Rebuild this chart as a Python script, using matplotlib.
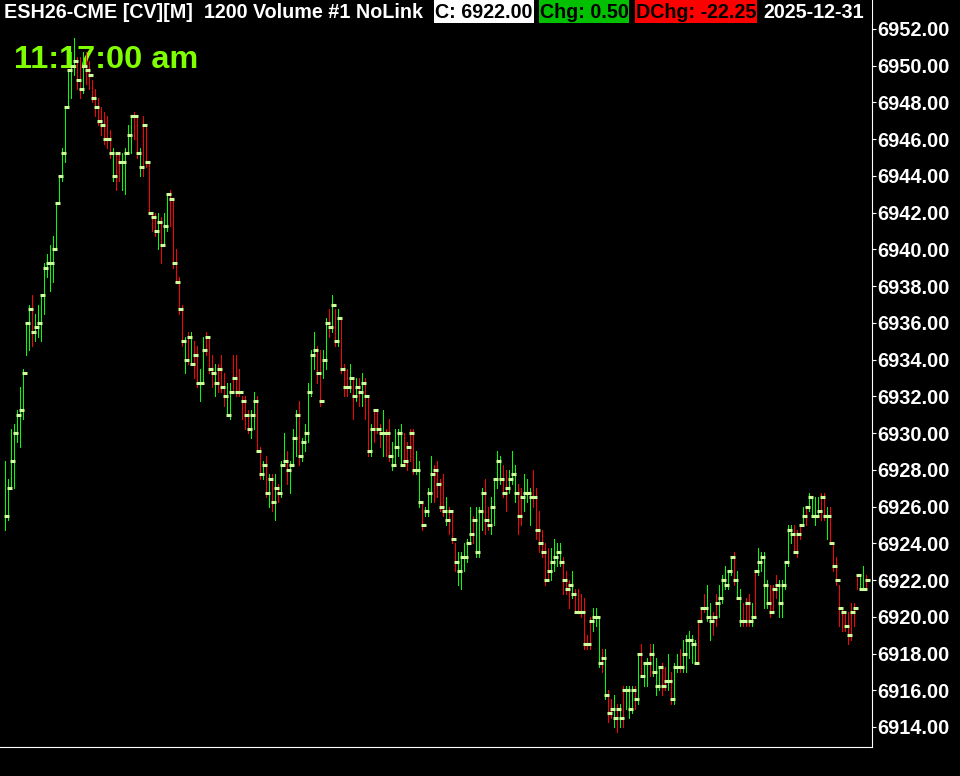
import matplotlib
matplotlib.use("Agg")
import matplotlib.pyplot as plt
from matplotlib.patches import Rectangle
import numpy as np

# ---------------- data ----------------
highs = [
    6928.5, 6927.5, 6930.25, 6930.5, 6931.25, 6932.5, 6933.5, 6936, 6937, 6937.5,
    6936.5, 6937, 6937.5, 6939.25, 6939.75, 6940.25, 6940.75, 6942.5, 6944, 6945.5,
    6947.75, 6949.75, 6950.75, 6951.5, 6950.5, 6950.5, 6950.75, 6950.75, 6950.25, 6949.25,
    6948.75, 6948.25, 6947.75, 6947.5, 6947.25, 6946.5, 6945.5, 6945.25, 6945.25, 6945.25,
    6945.5, 6946.75, 6947.25, 6947.5, 6947.25, 6945.5, 6947.25, 6946.75, 6944.75, 6942,
    6942, 6942, 6941.75, 6942, 6943, 6943.25, 6942.75, 6940, 6938.5, 6937,
    6935.25, 6935.5, 6935.5, 6935, 6934.75, 6933.5, 6935.25, 6935.5, 6935.25, 6934.25,
    6933.75, 6933.75, 6934.25, 6933.25, 6932.75, 6932.75, 6934.25, 6934.25, 6933.5, 6932,
    6932, 6931.25, 6931.25, 6932.25, 6932, 6929.25, 6928.5, 6928.75, 6927.75, 6927.75,
    6927.75, 6927.25, 6928.5, 6930, 6929, 6928.5, 6930.25, 6931.25, 6931.75, 6929.75,
    6930.5, 6932.75, 6934.5, 6935.5, 6934.75, 6934.5, 6934.5, 6936.25, 6936.75, 6937.5,
    6936.75, 6936.75, 6936.25, 6933.75, 6933.5, 6933.75, 6933, 6933, 6933, 6933.25,
    6933, 6932, 6930.5, 6931.25, 6931.25, 6930.5, 6931.25, 6930.25, 6930.75, 6929.5,
    6930.25, 6930.25, 6930.5, 6930, 6929.5, 6930.25, 6930.25, 6929, 6928.5, 6926.25,
    6926, 6927, 6928.75, 6928.25, 6928.5, 6927.5, 6927.75, 6926.5, 6926, 6925.75,
    6924, 6923.5, 6923.5, 6924, 6924.25, 6926, 6925.5, 6926, 6926, 6927,
    6927.5, 6926, 6926.5, 6927.5, 6929, 6928.75, 6928.25, 6928, 6928, 6929,
    6928.25, 6927.25, 6927, 6927.75, 6927.5, 6927, 6928, 6927, 6925.75, 6924.75,
    6924, 6923.75, 6923.75, 6924.25, 6924, 6924, 6923.25, 6922.5, 6922, 6922.5,
    6921.5, 6921.5, 6921.25, 6921, 6919, 6920, 6920.5, 6920.5, 6920, 6918.25,
    6918.25, 6916, 6915.5, 6915.75, 6915.25, 6915.25, 6916.25, 6916.25, 6916.25, 6916.25,
    6916.25, 6918, 6918.5, 6917.5, 6917.75, 6918.5, 6918.5, 6917.75, 6917.25, 6917.5,
    6917.25, 6918, 6917, 6917.5, 6918, 6918.25, 6918.75, 6919, 6919.25, 6919,
    6918.75, 6919.75, 6920.5, 6921.25, 6921.75, 6920.75, 6920.25, 6921.25, 6921.75, 6922.25,
    6922.75, 6922.5, 6923.25, 6923.5, 6922.5, 6921.5, 6920.75, 6921, 6921.25, 6920.75,
    6922.5, 6923.75, 6923.5, 6923.5, 6922, 6921.75, 6921.75, 6922.25, 6922, 6922,
    6923, 6925, 6925, 6925, 6924.75, 6925, 6926, 6926, 6926.75, 6926.5,
    6926.5, 6926.5, 6926.75, 6926.75, 6926, 6926, 6924, 6923.25, 6921.75, 6920.5,
    6920.25, 6920.25, 6920.75, 6920.75, 6922.25, 6922.25, 6922.75, 6922.25,
]
lows = [
    6924.75, 6925.25, 6927, 6927, 6929.5, 6929.25, 6930.75, 6934.25, 6934.5, 6934.75,
    6935, 6935.25, 6935, 6936.5, 6938.5, 6937.75, 6938.25, 6940, 6942.5, 6943.75,
    6944.75, 6947.75, 6948.25, 6949.5, 6948.75, 6948.25, 6948.5, 6949, 6948.75, 6948,
    6947.25, 6946.75, 6946.25, 6945.75, 6945.5, 6945, 6943.75, 6943.25, 6943.75, 6943.25,
    6943, 6945.25, 6945.25, 6946, 6945, 6944, 6944, 6944.5, 6942, 6941,
    6940.75, 6940, 6939.25, 6940.25, 6941, 6941.25, 6939, 6938.25, 6936.5, 6934.75,
    6933.25, 6933.75, 6933.75, 6933, 6932.5, 6931.75, 6932.75, 6934.25, 6933.25, 6932.5,
    6932, 6932.25, 6932.25, 6931.5, 6931, 6930.75, 6932.25, 6932, 6932, 6930.75,
    6930.25, 6930, 6929.75, 6930.25, 6929, 6927.5, 6927.5, 6926.5, 6926, 6925.75,
    6925.25, 6926.25, 6926.5, 6928.25, 6927.25, 6926.75, 6928.25, 6928.75, 6928.25, 6928.5,
    6929, 6929.5, 6932, 6933.5, 6932.75, 6931.5, 6933, 6933.5, 6935.25, 6935.5,
    6934.75, 6934.75, 6933.25, 6932, 6932, 6932.25, 6930.75, 6931.75, 6931.5, 6931.5,
    6930.75, 6928.75, 6928.75, 6929.5, 6930, 6929.25, 6928.75, 6928.75, 6928.5, 6928,
    6928.25, 6928.75, 6928.25, 6928.25, 6928, 6928.5, 6927.75, 6927.75, 6926, 6924.75,
    6925.5, 6925.5, 6926.25, 6926.25, 6926.5, 6925.75, 6925.5, 6925, 6924.5, 6924,
    6922.5, 6921.75, 6921.5, 6922.5, 6923, 6924, 6924, 6923.25, 6923.25, 6924.75,
    6924.5, 6924.75, 6924.5, 6925, 6927, 6927.25, 6926.5, 6925.75, 6926.75, 6927.25,
    6926.25, 6924.5, 6925, 6925.75, 6926.25, 6925, 6926, 6924.25, 6923.5, 6923.25,
    6921.75, 6922, 6922, 6922.5, 6922.75, 6922.75, 6921.25, 6921.25, 6920.5, 6921,
    6920.25, 6920.25, 6920, 6918.25, 6918.25, 6918.25, 6919.25, 6919.5, 6917.25, 6917,
    6915.5, 6914.25, 6914.5, 6914, 6913.75, 6914, 6914, 6915, 6914.5, 6914.75,
    6915, 6915.25, 6916.75, 6916.25, 6916.25, 6916.75, 6916.75, 6915.75, 6916, 6915.75,
    6916, 6916, 6915.25, 6915.25, 6917, 6917, 6917, 6917, 6917.75, 6917.5,
    6917.5, 6917.5, 6919.75, 6920.25, 6919.75, 6918.75, 6919, 6919.5, 6920, 6920.75,
    6921.5, 6921.5, 6922.25, 6921.75, 6921, 6919.5, 6919.5, 6919.5, 6919.5, 6919.5,
    6920, 6922.25, 6922.5, 6920.5, 6920.5, 6920, 6920.25, 6921, 6920, 6920,
    6921.5, 6922.75, 6924, 6923.5, 6923.25, 6924.25, 6925, 6925, 6925.75, 6925.5,
    6925, 6925.5, 6925.25, 6925.25, 6924.25, 6924, 6922.5, 6921.75, 6919.5, 6919.25,
    6919.25, 6918.5, 6918.75, 6919.5, 6921.5, 6921.5, 6921.5, 6921.5,
]
closes = [
    6925.5, 6927, 6928.5, 6930, 6931, 6931.25, 6933.25, 6936, 6936.75, 6935.5,
    6935.75, 6936, 6937.5, 6939, 6939.25, 6939.25, 6940, 6942.5, 6944, 6945.25,
    6947.75, 6949.75, 6950, 6950.25, 6949.25, 6948.75, 6950, 6949.75, 6949.5, 6948.25,
    6947.75, 6947, 6946.75, 6946, 6946, 6945.25, 6944, 6945.25, 6944.75, 6944.75,
    6945.25, 6946.25, 6947.25, 6947.25, 6945.25, 6944.5, 6946.75, 6944.75, 6942, 6941.75,
    6941, 6941.5, 6940.25, 6941.25, 6943, 6942.75, 6939.25, 6938.25, 6936.75, 6935,
    6934, 6935.25, 6933.75, 6934.25, 6932.75, 6932.75, 6934.5, 6935.25, 6933.5, 6933.25,
    6932.75, 6933.5, 6932.5, 6932, 6931, 6932.25, 6933, 6932.25, 6932.25, 6931.75,
    6931, 6930.25, 6931, 6931.75, 6929, 6927.75, 6928.25, 6926.75, 6927.5, 6926.25,
    6927, 6926.75, 6928.25, 6928.5, 6928, 6928.25, 6929.75, 6931, 6928.75, 6929.5,
    6930, 6932.25, 6934.25, 6934.5, 6933.25, 6931.75, 6934, 6936, 6935.75, 6937,
    6935, 6936.25, 6933.5, 6932.5, 6932.5, 6933, 6932, 6932.5, 6932.25, 6932.75,
    6932, 6929, 6930.25, 6931.25, 6930.25, 6930, 6930, 6930, 6928.75, 6928.25,
    6929.25, 6930, 6928.25, 6928.5, 6929.25, 6930, 6928, 6928, 6926.25, 6925,
    6925.75, 6926.75, 6927.75, 6928, 6927.25, 6926, 6925.75, 6925.25, 6925.75, 6924.25,
    6923, 6922.5, 6923.25, 6923.25, 6924, 6924.5, 6925.25, 6923.5, 6925.75, 6926.75,
    6925.25, 6925, 6926, 6927.5, 6928.5, 6927.5, 6926.75, 6927, 6927.5, 6927.75,
    6926.75, 6925.5, 6926.5, 6926.75, 6926.75, 6926.5, 6926.5, 6924.75, 6924, 6923.5,
    6922, 6922.5, 6923, 6923.25, 6923.5, 6923, 6922, 6921.5, 6921.75, 6921.25,
    6920.25, 6920.25, 6920.25, 6918.5, 6918.5, 6919.75, 6920, 6920, 6917.5, 6917.75,
    6915.75, 6914.75, 6915, 6914.5, 6915, 6914.5, 6916, 6916, 6915, 6916,
    6915.5, 6918, 6916.75, 6917.5, 6917.5, 6918, 6917, 6916.25, 6917.25, 6916.25,
    6916.5, 6916.5, 6915.5, 6917.25, 6917.25, 6917.25, 6918, 6918.75, 6918.75, 6918.5,
    6917.5, 6919.75, 6920.5, 6920.5, 6920, 6919.75, 6920, 6920.75, 6921, 6922,
    6921.75, 6922.5, 6923.25, 6922, 6921, 6919.75, 6919.75, 6920.75, 6919.75, 6920,
    6922.5, 6923, 6923.25, 6921.75, 6920.75, 6920.25, 6921.5, 6921.75, 6920.75, 6921.75,
    6923, 6924.75, 6924.5, 6923.5, 6924.5, 6925, 6925.5, 6926, 6926.5, 6925.5,
    6925.5, 6925.75, 6926.5, 6925.5, 6925.5, 6924, 6922.75, 6922, 6920.5, 6920.25,
    6919.5, 6919, 6920.25, 6920.5, 6922.25, 6921.5, 6921.5, 6922,
]
# g = up bar (green), r = down bar (red)
directions = (
    "gggggggggrggggggggggggggrrgrrrrrrrrrgrrggggrrgrrrrrgrggrrrrrgrgrrggrrrgrrrggrrrrrrggrrgrgrgrggrgggrggg"
    "ggrrggrgrgrrrgrgrgrrgrrrgrrggggrrrrggrgggrrrrgrrrgggggrgggrrggggrrgggrrgggrrrrrrggggrrrgrrrrrrgggrgr"
    "rgrgrgggrgrggrgggrrgrggrgggggrrrggrrgggggrggrrrgrggggrrrgggggrrrgrggggrrgrrrrrrrrrrggrrg"
)

tick_values = [6914, 6916, 6918, 6920, 6922, 6924, 6926, 6928, 6930, 6932,
               6934, 6936, 6938, 6940, 6942, 6944, 6946, 6948, 6950, 6952]

header_title = "ESH26-CME [CV][M]  1200 Volume #1 NoLink"
header_close = "C: 6922.00"
header_chg = "Chg: 0.50"
header_dchg = "DChg: -22.25"
header_date = "2025-12-31"
clock_text = "11:17:00 am"

# ---------------- figure ----------------
W, H = 960, 776
FONT = "Liberation Sans"
fig = plt.figure(figsize=(W / 100, H / 100), dpi=100, facecolor="black")
ax = fig.add_axes([0, 29 / H, 872 / W, 747 / H])
ax.set_facecolor("black")

n = len(closes)
idx = np.arange(n)
px_per_pt = 698 / 38.0
ax.set_xlim(-5 / 3, 289)
ax.set_ylim(6914 - 20 / px_per_pt, 6952 + 29 / px_per_pt)

cols = ["#00ff00" if d == "g" else "#ff0000" for d in directions[:n]]
ax.vlines(idx, lows, highs, colors=cols, linewidth=0.7, zorder=2, antialiased=False)
mk = ax.hlines(closes, idx - 0.17, idx + 1.17, colors="#ccff99", linewidth=2.2,
               zorder=3, antialiased=True)
mk.set_capstyle("butt")

for s in ["left", "top"]:
    ax.spines[s].set_visible(False)
for s in ["right", "bottom"]:
    ax.spines[s].set_color("white")
    ax.spines[s].set_linewidth(0.8)

ax.yaxis.tick_right()
ax.set_yticks(tick_values)
ax.set_yticklabels([f"{v:.2f}" for v in tick_values])
ax.tick_params(axis="y", direction="out", length=3, width=0.8, colors="white",
               labelsize=14.4, pad=0.8)
for lab in ax.get_yticklabels():
    lab.set_fontfamily(FONT)
    lab.set_fontweight("bold")
ax.set_xticks([])

# clock behind the bars
ax.text(14 / 872, 1 - 68.5 / 747, clock_text, transform=ax.transAxes, color="#80ff00",
        fontsize=23.4, fontweight="bold", fontfamily=FONT, va="baseline", ha="left", zorder=1)

# header
base = 1 - 18.5 / H
def box(x0, x1, color):
    fig.patches.append(Rectangle((x0 / W, 1 - 23 / H), (x1 - x0) / W, 23 / H,
                                 transform=fig.transFigure, facecolor=color,
                                 edgecolor="none", zorder=4))

fig.patches.append(Rectangle((0, 1 - 24 / H), 872 / W, 24 / H, transform=fig.transFigure,
                             facecolor="black", edgecolor="none", zorder=3.5))
box(434, 534, "white")
box(539, 629, "#00c000")
box(635, 757, "#ff0000")

kw = dict(fontsize=14.2, fontweight="bold", fontfamily=FONT, va="baseline", ha="left", zorder=5)
fig.text(4 / W, base, header_title, color="white", **kw)
fig.text(435 / W, base, header_close, color="black", **kw)
fig.text(540 / W, base, header_chg, color="black", **kw)
fig.text(636 / W, base, header_dchg, color="black", **kw)
fig.text(763 / W, base, header_date, color="white", **kw)

fig.savefig("out.png", dpi=100, facecolor="black")
